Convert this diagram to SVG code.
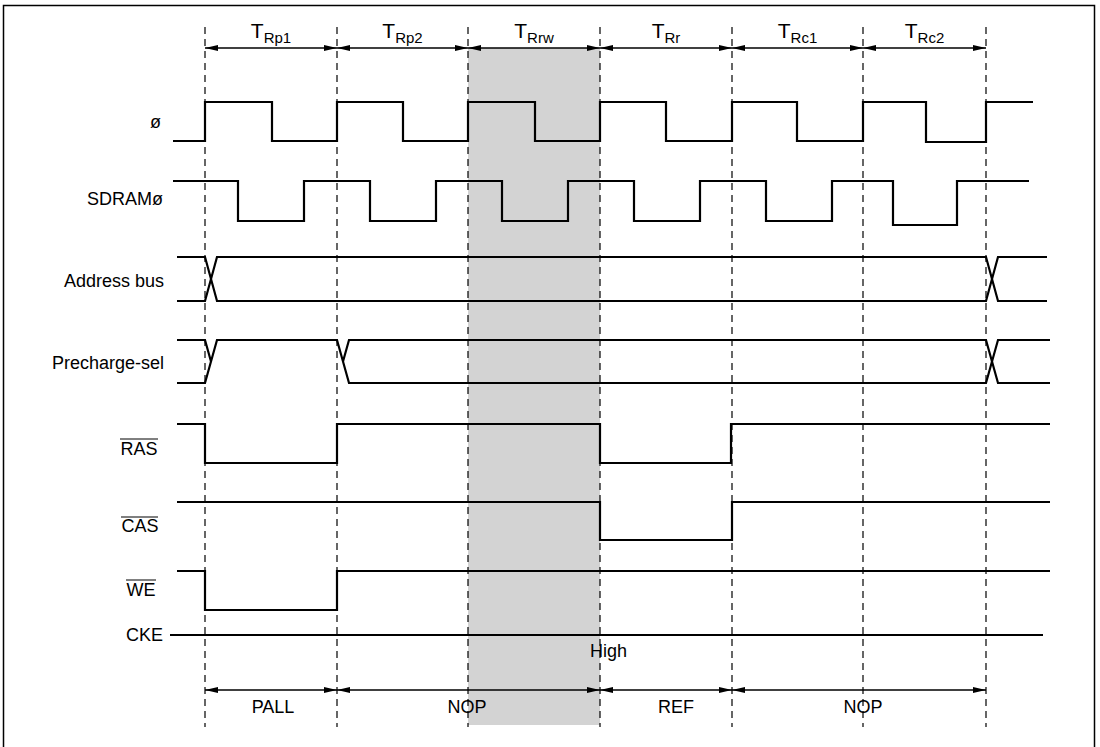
<svg xmlns="http://www.w3.org/2000/svg" width="1100" height="747" viewBox="0 0 1100 747">
<style>
text{font-family:"Liberation Sans",Arial,sans-serif;font-size:18px;fill:#000}
.lbl{text-anchor:end}
.mid{text-anchor:middle}
text.t{font-size:21px}
tspan.s{font-size:15px}
.sig{fill:none;stroke:#000;stroke-width:2.2;stroke-linejoin:miter}
.dash{stroke:#000;stroke-width:1.2;stroke-dasharray:7,5;fill:none}
.arr{stroke:#000;stroke-width:1.3;fill:none;marker-start:url(#ah);marker-end:url(#ah)}
.ov{stroke:#000;stroke-width:1}
</style>
<defs>
<marker id="ah" markerWidth="14" markerHeight="8" refX="13" refY="4" orient="auto-start-reverse" markerUnits="userSpaceOnUse">
<path d="M0,1 L13,4 L0,7 z" fill="#000"/>
</marker>
</defs>
<rect x="0" y="0" width="1100" height="747" fill="#fff"/>
<rect x="3.5" y="5.5" width="1091" height="743" fill="none" stroke="#000" stroke-width="1.5"/>
<rect id="shade" x="468" y="48" width="132" height="677" fill="#d3d3d3"/>

<g id="connectors">
<g id="cycle-lines">
<line class="dash" x1="205" y1="27" x2="205" y2="727"/>
<line class="dash" x1="337" y1="27" x2="337" y2="727"/>
<line class="dash" x1="468" y1="27" x2="468" y2="727"/>
<line class="dash" x1="600" y1="27" x2="600" y2="727"/>
<line class="dash" x1="732" y1="27" x2="732" y2="727"/>
<line class="dash" x1="863" y1="27" x2="863" y2="727"/>
<line class="dash" x1="986" y1="27" x2="986" y2="727"/>
</g>
<g id="top-arrows">
<line class="arr" x1="205" y1="48" x2="337" y2="48"/>
<line class="arr" x1="337" y1="48" x2="468" y2="48"/>
<line class="arr" x1="468" y1="48" x2="600" y2="48"/>
<line class="arr" x1="600" y1="48" x2="732" y2="48"/>
<line class="arr" x1="732" y1="48" x2="863" y2="48"/>
<line class="arr" x1="863" y1="48" x2="986" y2="48"/>
</g>
<g id="bottom-arrows">
<line class="arr" x1="205" y1="690" x2="337" y2="690"/>
<line class="arr" x1="337" y1="690" x2="600" y2="690"/>
<line class="arr" x1="600" y1="690" x2="732" y2="690"/>
<line class="arr" x1="732" y1="690" x2="986" y2="690"/>
</g>
</g>

<g id="state-labels">
<text class="mid t" x="271" y="38">T<tspan class="s" dy="5">Rp1</tspan></text>
<text class="mid t" x="402.5" y="38">T<tspan class="s" dy="5">Rp2</tspan></text>
<text class="mid t" x="534" y="38">T<tspan class="s" dy="5">Rrw</tspan></text>
<text class="mid t" x="666" y="38">T<tspan class="s" dy="5">Rr</tspan></text>
<text class="mid t" x="797.5" y="38">T<tspan class="s" dy="5">Rc1</tspan></text>
<text class="mid t" x="924.5" y="38">T<tspan class="s" dy="5">Rc2</tspan></text>
</g>

<g id="phi">
<text class="lbl" x="161" y="128">ø</text>
<path class="sig" d="M173,141 H205 V102 H272 V141 H337 V102 H403 V141 H468 V102 H535 V141 H600 V102 H666 V141 H732 V102 H797 V141 H863 V102 H926 V142 H986 V102 H1033"/>
</g>
<g id="sdram-phi">
<text class="lbl" x="163" y="205">SDRAMø</text>
<path class="sig" d="M173,181 H238 V221 H304 V181 H370 V221 H436 V181 H502 V221 H568 V181 H634 V221 H700 V181 H766 V221 H832 V181 H893 V225 H957 V181 H1029"/>
</g>
<g id="address-bus">
<text class="lbl" x="164" y="287">Address bus</text>
<path class="sig" d="M177,257 H205 L217,301 H986 L998,257 H1047"/>
<path class="sig" d="M177,301 H205 L217,257 H986 L998,301 H1047"/>
</g>
<g id="precharge-sel">
<text class="lbl" x="164" y="369">Precharge-sel</text>
<path class="sig" d="M177,383 H205 L217,340 H337 L349,383 H986 L998,340 H1050"/>
<path class="sig" d="M177,340 H205 L211,361.5"/>
<path class="sig" d="M343,361.5 L349,340 H986 L998,383 H1050"/>
</g>
<g id="ras">
<text class="mid" x="139" y="455">RAS</text>
<line class="ov" x1="120" y1="439" x2="158" y2="439"/>
<path class="sig" d="M177,424 H205 V463 H337 V424 H600 V463 H731 V424 H1050"/>
</g>
<g id="cas">
<text class="mid" x="140" y="532">CAS</text>
<line class="ov" x1="121" y1="517" x2="158" y2="517"/>
<path class="sig" d="M177,502 H600 V540 H732 V502 H1050"/>
</g>
<g id="we">
<text class="mid" x="141" y="596">WE</text>
<line class="ov" x1="126" y1="580" x2="156" y2="580"/>
<path class="sig" d="M177,571 H205 V610 H337 V571 H1050"/>
</g>
<g id="cke">
<text class="lbl" x="163" y="641">CKE</text>
<path class="sig" d="M170,635 H1043"/>
<text x="590" y="657">High</text>
</g>

<g id="command-labels">
<text class="mid" x="273" y="713">PALL</text>
<text class="mid" x="467" y="713">NOP</text>
<text class="mid" x="676" y="713">REF</text>
<text class="mid" x="863" y="713">NOP</text>
</g>
</svg>
